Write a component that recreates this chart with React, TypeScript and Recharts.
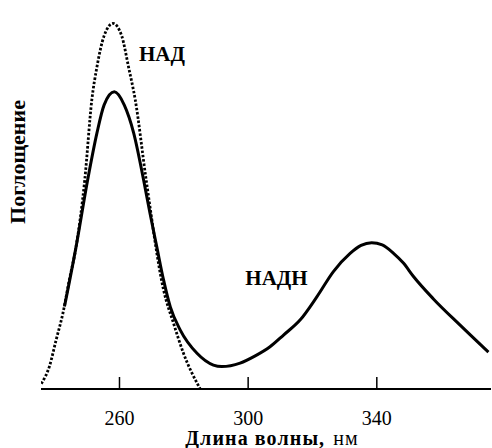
import { LineChart, Line, XAxis, YAxis, ReferenceDot } from "recharts";

// wavelength, nm
const nadWave = [235.7, 238.2, 240.3, 242.4, 244.4, 246.5, 249.2, 251.4, 253.0, 255.2, 258.0, 260.7, 262.8, 264.9, 268.3, 273.7, 276.8, 279.9, 285.1];
// absorbance, arbitrary units
const nadAbs = [0.014, 0.059, 0.129, 0.199, 0.287, 0.374, 0.55, 0.761, 0.848, 0.929, 0.962, 0.929, 0.848, 0.761, 0.55, 0.261, 0.173, 0.094, 0.0];

const nadhWave = [242.9, 246.5, 250.1, 253.0, 255.2, 258.4, 261.5, 264.4, 267.5, 269.5, 271.6, 273.7, 275.8, 278.9, 284.1, 289.2, 291.8, 297.5, 302.2, 306.8, 311.0, 316.2, 321.4, 326.5, 331.7, 335.1, 338.4, 341.7, 345.2, 348.2, 351.4, 357.6, 365.9, 374.7];
const nadhAbs = [0.217, 0.374, 0.55, 0.674, 0.747, 0.782, 0.747, 0.674, 0.55, 0.462, 0.374, 0.287, 0.216, 0.155, 0.094, 0.063, 0.059, 0.068, 0.087, 0.111, 0.142, 0.182, 0.243, 0.309, 0.357, 0.378, 0.385, 0.379, 0.357, 0.332, 0.296, 0.237, 0.168, 0.097];

const xTicks = [260, 300, 340];

const nadData = nadWave.map((w, i) => ({ w, a: nadAbs[i] }));
const nadhData = nadhWave.map((w, i) => ({ w, a: nadhAbs[i] }));

const FONT = '"Liberation Serif", "Times New Roman", Tinos, "DejaVu Serif", serif';

const XTick = (props: any) => {
  const { x, y, payload } = props;
  return (
    <g>
      <line x1={x} x2={x} y1={y} y2={y - 12} stroke="#000" strokeWidth={1.5} />
      <text x={x} y={y + 36} textAnchor="middle" style={{ fontFamily: FONT, fontSize: 20 }} fill="#000">
        {payload.value}
      </text>
    </g>
  );
};

const curveLabel = { fontFamily: FONT, fontSize: 21, fontWeight: "bold", fill: "#000" };

export default function App() {
  return (
    <div style={{ position: "absolute", left: 0, top: 0, width: 492, height: 448, background: "#fff", fontFamily: FONT }}>
      <LineChart width={492} height={448} margin={{ top: 9, right: 1, bottom: 0, left: 41 }}>
        <XAxis
          type="number"
          dataKey="w"
          domain={[235.6, 375.5]}
          ticks={xTicks}
          tick={<XTick />}
          tickLine={false}
          tickSize={0}
          tickMargin={0}
          height={59}
          allowDataOverflow
          axisLine={{ stroke: "#000", strokeWidth: 2 }}
        />
        <YAxis
          type="number"
          domain={[0, 1]}
          width={0}
          tick={false}
          tickLine={false}
          axisLine={{ stroke: "#000", strokeWidth: 2 }}
        />
        <Line
          data={nadData}
          dataKey="a"
          type="monotone"
          stroke="#000"
          strokeWidth={2.8}
          strokeDasharray="2.5 1.8"
          dot={false}
          isAnimationActive={false}
        />
        <Line
          data={nadhData}
          dataKey="a"
          type="monotone"
          stroke="#000"
          strokeWidth={3}
          dot={false}
          isAnimationActive={false}
        />
        <ReferenceDot x={273.2} y={0.884} r={0} stroke="none" label={{ value: "НАД", position: "center", style: curveLabel }} />
        <ReferenceDot x={308.8} y={0.293} r={0} stroke="none" label={{ value: "НАДН", position: "center", style: curveLabel }} />
      </LineChart>
      {/* axis titles */}
      <svg width={492} height={448} style={{ position: "absolute", left: 0, top: 0, pointerEvents: "none" }}>
        <text
          x={272}
          y={445}
          textAnchor="middle"
          style={{ fontFamily: FONT, fontSize: 20, fontWeight: "bold", letterSpacing: 1.1 }}
          fill="#000"
        >
          Длина волны,<tspan dx={8} fontWeight="normal">нм</tspan>
        </text>
        <text
          x={25}
          y={162}
          transform="rotate(-90 25 162)"
          textAnchor="middle"
          style={{ fontFamily: FONT, fontSize: 22, fontWeight: "bold" }}
          fill="#000"
        >
          Поглощение
        </text>
      </svg>
    </div>
  );
}
